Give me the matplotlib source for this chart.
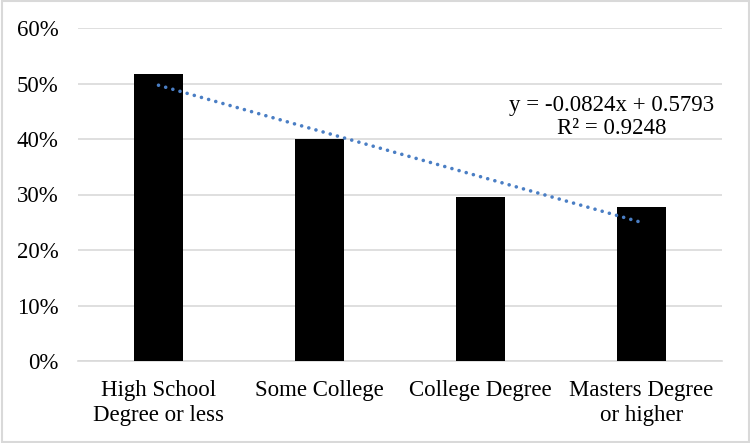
import matplotlib
matplotlib.use("Agg")
import matplotlib.pyplot as plt
import numpy as np
from matplotlib.patches import Rectangle

categories = ["High School\nDegree or less", "Some College", "College Degree", "Masters Degree\nor higher"]
values = [0.518, 0.400, 0.296, 0.278]
slope = -0.0824
intercept = 0.5793
r2 = 0.9248
yticks = [0, 0.1, 0.2, 0.3, 0.4, 0.5, 0.6]

plt.rcParams['font.family'] = ['Liberation Serif', 'DejaVu Serif']

fig = plt.figure(figsize=(7.5, 4.43), dpi=100)
ax = fig.add_axes([78/750, 1-361/443, 644/750, 333/443])

x = np.arange(1, len(categories)+1)
ax.bar(x, values, width=0.31, color='black', zorder=3)

xt = np.array([1, len(categories)])
ax.plot(xt, slope*xt + intercept, linestyle=(0, (0.01, 2.05)), color='#4A7EC4', lw=2.6,
        dash_capstyle='round', zorder=4)

ax.set_xlim(0.5, len(categories)+0.5)
ax.set_ylim(0, 0.6)
ax.set_yticks(yticks)
ax.set_yticklabels([f"{int(round(v*100))}%" for v in yticks])
ax.set_xticks(x)
ax.set_xticklabels(categories, linespacing=1.2)
ax.tick_params(axis='both', length=0, labelsize=16.5)
ax.tick_params(axis='y', pad=14)
ax.tick_params(axis='x', pad=14)
ax.yaxis.grid(True, color='#d9d9d9', lw=1.2, zorder=0)
for s in ['top', 'right', 'left']:
    ax.spines[s].set_visible(False)
ax.spines['bottom'].set_color('#d9d9d9')
ax.spines['bottom'].set_linewidth(1.2)

ax.text(3.817, 0.44, f"y = {slope}x + {intercept}\nR\u00b2 = {r2}",
        ha='center', va='center', multialignment='center', fontsize=16.5, linespacing=1.15, zorder=5)

fig.patches.append(Rectangle((0.002, 0.003), 0.996, 0.994, transform=fig.transFigure,
                             fill=False, edgecolor='#d9d9d9', lw=1.5))

fig.savefig("out.png", dpi=100)
